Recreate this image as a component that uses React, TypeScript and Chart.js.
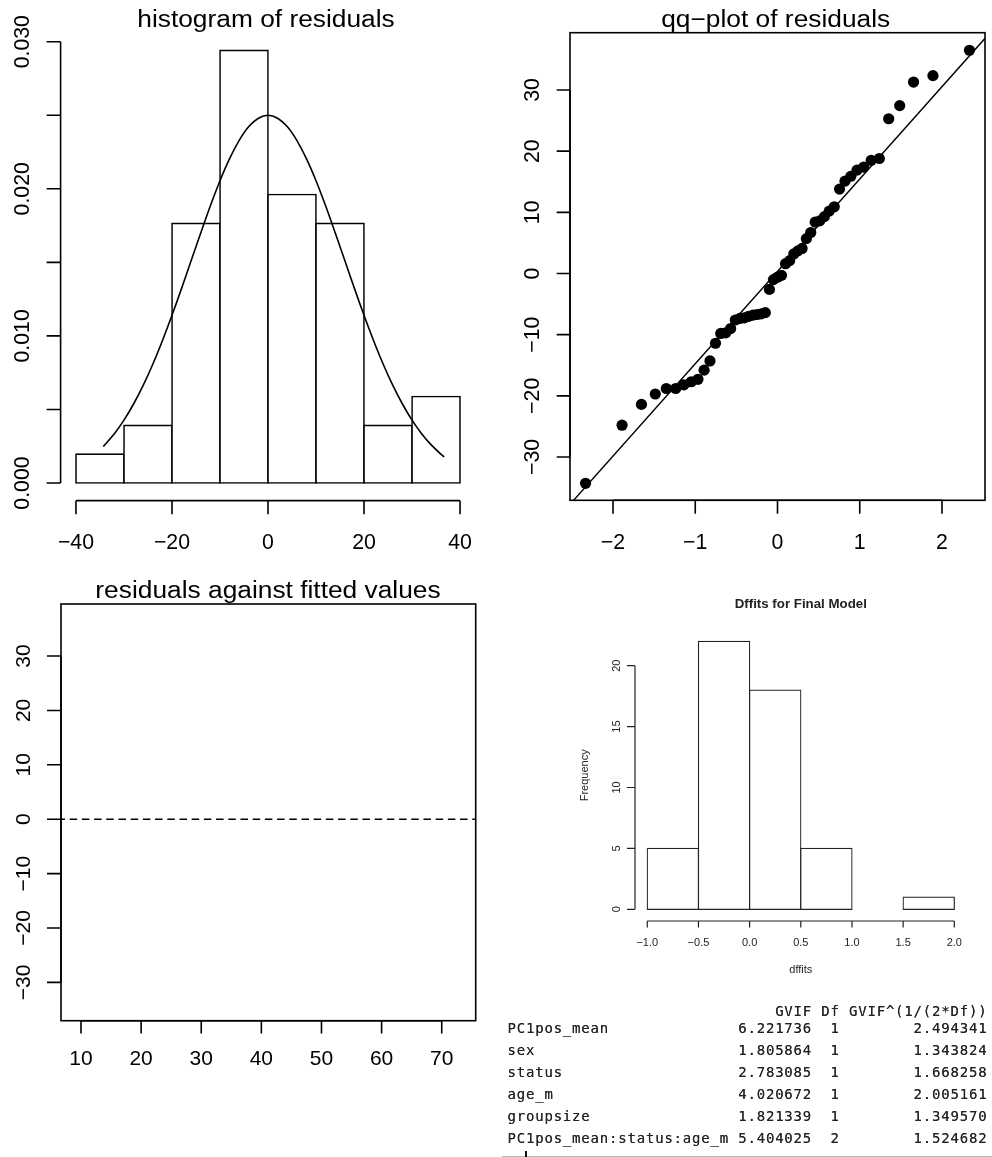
import { useEffect, useRef } from 'react';
import { Chart, registerables } from 'chart.js';

Chart.register(...registerables);

const PAGE_W = 992;
const PAGE_H = 1157;

// ---------- Panel 1: histogram of residuals ----------
const residBinCenters = [-35, -25, -15, -5, 5, 15, 25, 35];
const residDensity = [0.00196, 0.00392, 0.01765, 0.02941, 0.01961, 0.01765, 0.00392, 0.00588];
const normalCurveX = [-34.3, -32, -30, -28, -26, -24, -22, -20, -18, -16, -14, -12, -10, -8, -6, -4, -2, 0,
  2, 4, 6, 8, 10, 12, 14, 16, 18, 20, 22, 24, 26, 28, 30, 32, 34, 36, 36.7];
const normalCurveY = [0.00248, 0.00335, 0.00427, 0.00537, 0.00663, 0.00807, 0.00967, 0.0114, 0.01323, 0.01512,
  0.01701, 0.01885, 0.02055, 0.02205, 0.02329, 0.02423, 0.0248, 0.025, 0.0248, 0.02423, 0.02329, 0.02205,
  0.02055, 0.01885, 0.01701, 0.01512, 0.01323, 0.0114, 0.00967, 0.00807, 0.00663, 0.00537, 0.00427, 0.00335,
  0.00259, 0.00196, 0.00178];
const histXTicks = [-40, -20, 0, 20, 40];
const histXLabels = ['\u221240', '\u221220', '0', '20', '40'];
const histYTicks = [0, 0.005, 0.01, 0.015, 0.02, 0.025, 0.03];
const histYLabels = ['0.000', '', '0.010', '', '0.020', '', '0.030'];

// ---------- Panel 2: qq-plot of residuals ----------
const qqTheoretical = [-2.334, -1.89, -1.654, -1.486, -1.352, -1.238, -1.139, -1.049, -0.967, -0.892, -0.821,
  -0.754, -0.69, -0.629, -0.57, -0.513, -0.458, -0.404, -0.351, -0.299, -0.248, -0.198, -0.148, -0.098, -0.049,
  0, 0.049, 0.098, 0.148, 0.198, 0.248, 0.299, 0.351, 0.404, 0.458, 0.513, 0.57, 0.629, 0.69, 0.754, 0.821,
  0.892, 0.967, 1.049, 1.139, 1.238, 1.352, 1.486, 1.654, 1.89, 2.334];
const qqSample = [-34.3, -24.8, -21.4, -19.7, -18.8, -18.8, -18.2, -17.7, -17.3, -15.8, -14.3, -11.4, -9.8, -9.7,
  -9.0, -7.6, -7.35, -7.25, -7.0, -6.8, -6.7, -6.6, -6.4, -2.6, -1.0, -0.6, -0.3, 1.6, 2.1, 3.2, 3.7, 4.1, 5.7,
  6.7, 8.4, 8.6, 9.3, 10.2, 10.9, 13.8, 15.1, 15.9, 16.9, 17.4, 18.5, 18.8, 25.3, 27.45, 31.3, 32.35, 36.5];
const qqLineX = [-2.6, 2.6];
const qqLineY = [-38.91, 39.61];
const qqXTicks = [-2, -1, 0, 1, 2];
const qqXLabels = ['\u22122', '\u22121', '0', '1', '2'];
const residYTicks = [-30, -20, -10, 0, 10, 20, 30];
const residYLabels = ['\u221230', '\u221220', '\u221210', '0', '10', '20', '30'];

// ---------- Panel 3: residuals against fitted values ----------
const fittedXTicks = [10, 20, 30, 40, 50, 60, 70];
const fittedXLabels = ['10', '20', '30', '40', '50', '60', '70'];
const zeroLineX = [0, 100];
const zeroLineY = [0, 0];

// ---------- Panel 4: Dffits ----------
const dffitsBinCenters = [-0.75, -0.25, 0.25, 0.75, 1.25, 1.75];
const dffitsCounts = [5, 22, 18, 5, 0, 1];
const dffitsXTicks = [-1, -0.5, 0, 0.5, 1, 1.5, 2];
const dffitsXLabels = ['\u22121.0', '\u22120.5', '0.0', '0.5', '1.0', '1.5', '2.0'];
const dffitsYTicks = [0, 5, 10, 15, 20];
const dffitsYLabels = ['0', '5', '10', '15', '20'];

// ---------- VIF table ----------
const vifTerms = ['PC1pos_mean', 'sex', 'status', 'age_m', 'groupsize', 'PC1pos_mean:status:age_m'];
const vifGVIF = [6.221736, 1.805864, 2.783085, 4.020672, 1.821339, 5.404025];
const vifDf = [1, 1, 1, 1, 1, 2];
const vifAdj = [2.494341, 1.343824, 1.668258, 2.005161, 1.34957, 1.524682];
const vifHeaders = ['GVIF', 'Df', 'GVIF^(1/(2*Df))'];

// ---------- helpers ----------
type Area = { left: number; top: number; right: number; bottom: number };
type AxisCfg = { ticks: number[]; labels: string[]; tickLen: number; labelOffset: number; font: string; shift?: number };
type TextCfg = { text: string; x: number; y: number; font: string; scaleX?: number; rotate?: boolean };
type RCfg = { color: string; lineWidth: number; box?: boolean; x: AxisCfg; y: AxisCfg; texts: TextCfg[] };

const SANS = '"Liberation Sans", Arial, Helvetica, sans-serif';

function rStylePlugin(cfg: RCfg) {
  return {
    id: 'rStyle',
    afterDraw(chart: any) {
      const ctx: CanvasRenderingContext2D = chart.ctx;
      const a = chart.chartArea;
      const xs = chart.scales.x;
      const ys = chart.scales.y;
      ctx.save();
      ctx.strokeStyle = cfg.color;
      ctx.fillStyle = cfg.color;
      ctx.lineWidth = cfg.lineWidth;
      ctx.setLineDash([]);
      if (cfg.box) ctx.strokeRect(a.left, a.top, a.right - a.left, a.bottom - a.top);

      const xy = a.bottom + (cfg.x.shift || 0);
      const xp = cfg.x.ticks.map((v) => xs.getPixelForValue(v));
      ctx.beginPath();
      ctx.moveTo(xp[0], xy);
      ctx.lineTo(xp[xp.length - 1], xy);
      for (const p of xp) {
        ctx.moveTo(p, xy);
        ctx.lineTo(p, xy + cfg.x.tickLen);
      }
      ctx.stroke();
      ctx.font = cfg.x.font;
      ctx.textAlign = 'center';
      ctx.textBaseline = 'alphabetic';
      cfg.x.labels.forEach((l, i) => {
        if (l) ctx.fillText(l, xp[i], xy + cfg.x.labelOffset);
      });

      const yx = a.left - (cfg.y.shift || 0);
      const yp = cfg.y.ticks.map((v) => ys.getPixelForValue(v));
      ctx.beginPath();
      ctx.moveTo(yx, yp[0]);
      ctx.lineTo(yx, yp[yp.length - 1]);
      for (const p of yp) {
        ctx.moveTo(yx, p);
        ctx.lineTo(yx - cfg.y.tickLen, p);
      }
      ctx.stroke();
      ctx.font = cfg.y.font;
      cfg.y.labels.forEach((l, i) => {
        if (!l) return;
        ctx.save();
        ctx.translate(yx - cfg.y.labelOffset, yp[i]);
        ctx.rotate(-Math.PI / 2);
        ctx.fillText(l, 0, 0);
        ctx.restore();
      });

      for (const t of cfg.texts) {
        ctx.save();
        ctx.translate(t.x, t.y);
        if (t.rotate) ctx.rotate(-Math.PI / 2);
        ctx.scale(t.scaleX || 1, 1);
        ctx.font = t.font;
        ctx.textAlign = 'center';
        ctx.textBaseline = 'alphabetic';
        ctx.fillText(t.text, 0, 0);
        ctx.restore();
      }
      ctx.restore();
    },
  };
}

function baseOptions(area: Area, xMin: number, xMax: number, yMin: number, yMax: number): any {
  return {
    responsive: false,
    maintainAspectRatio: false,
    animation: false,
    devicePixelRatio: 1,
    events: [],
    layout: {
      padding: { left: area.left, top: area.top, right: PAGE_W - area.right, bottom: PAGE_H - area.bottom },
    },
    plugins: { legend: { display: false }, tooltip: { enabled: false }, title: { display: false } },
    scales: {
      x: { type: 'linear', min: xMin, max: xMax, display: false, bounds: 'data', offset: false },
      y: { type: 'linear', min: yMin, max: yMax, display: false, bounds: 'data', offset: false },
    },
  };
}

const pts = (xs: number[], ys: number[]) => xs.map((x, i) => ({ x, y: ys[i] }));

// ---------- chart factories ----------
function makeHist(canvas: HTMLCanvasElement) {
  const area = { left: 60.6, top: 24.05, right: 475.4, bottom: 500.65 };
  const xMin = -43.2, xMax = 43.2;
  const binPx = (10 * (area.right - area.left)) / (xMax - xMin);
  const lw = 1.6;
  return new Chart(canvas, {
    type: 'bar',
    data: {
      datasets: [
        {
          type: 'line',
          data: pts(normalCurveX, normalCurveY),
          borderColor: '#000',
          borderWidth: lw,
          pointRadius: 0,
          tension: 0.3,
          order: 0,
          clip: 0,
        } as any,
        {
          type: 'bar',
          data: pts(residBinCenters, residDensity),
          backgroundColor: '#fff',
          borderColor: '#000',
          borderWidth: lw,
          borderSkipped: false,
          inflateAmount: lw / 2,
          barThickness: binPx,
          order: 1,
        } as any,
      ],
    },
    options: baseOptions(area, xMin, xMax, -0.0012, 0.0312),
    plugins: [
      rStylePlugin({
        color: '#000',
        lineWidth: lw,
        x: { ticks: histXTicks, labels: histXLabels, tickLen: 13.7, labelOffset: 48.7, font: `21.3px ${SANS}` },
        y: { ticks: histYTicks, labels: histYLabels, tickLen: 14, labelOffset: 31.5, font: `21.3px ${SANS}` },
        texts: [{ text: 'histogram of residuals', x: 266, y: 26.7, font: `23.5px ${SANS}`, scaleX: 1.12 }],
      }),
    ],
  });
}

function makeQQ(canvas: HTMLCanvasElement) {
  const area = { left: 570, top: 32.7, right: 985, bottom: 500.3 };
  const lw = 1.6;
  return new Chart(canvas, {
    type: 'scatter',
    data: {
      datasets: [
        {
          type: 'line',
          data: pts(qqLineX, qqLineY),
          borderColor: '#000',
          borderWidth: 1.4,
          pointRadius: 0,
          order: 0,
          clip: 0,
        } as any,
        {
          type: 'scatter',
          data: pts(qqTheoretical, qqSample),
          backgroundColor: '#000',
          borderWidth: 0,
          pointRadius: 5.6,
          order: 1,
        } as any,
      ],
    },
    options: baseOptions(area, -2.523, 2.523, -37.08, 39.37),
    plugins: [
      rStylePlugin({
        color: '#000',
        lineWidth: lw,
        box: true,
        x: { ticks: qqXTicks, labels: qqXLabels, tickLen: 13.5, labelOffset: 49, font: `21.3px ${SANS}` },
        y: { ticks: residYTicks, labels: residYLabels, tickLen: 13.3, labelOffset: 30.7, font: `21.3px ${SANS}` },
        texts: [{ text: 'qq\u2212plot of residuals', x: 775.7, y: 26.7, font: `23.5px ${SANS}`, scaleX: 1.12 }],
      }),
    ],
  });
}

function makeFitted(canvas: HTMLCanvasElement) {
  const area = { left: 61, top: 604, right: 475.7, bottom: 1020.7 };
  const lw = 1.6;
  return new Chart(canvas, {
    type: 'line',
    data: {
      datasets: [
        {
          data: pts(zeroLineX, zeroLineY),
          borderColor: '#000',
          borderWidth: 1.5,
          borderDash: [7.5, 4.7],
          pointRadius: 0,
          clip: 0,
        } as any,
      ],
    },
    options: baseOptions(area, 6.673, 75.65, -37.05, 39.57),
    plugins: [
      rStylePlugin({
        color: '#000',
        lineWidth: lw,
        box: true,
        x: { ticks: fittedXTicks, labels: fittedXLabels, tickLen: 12.7, labelOffset: 44.3, font: `21px ${SANS}` },
        y: { ticks: residYTicks, labels: residYLabels, tickLen: 14, labelOffset: 31, font: `21px ${SANS}` },
        texts: [{ text: 'residuals against fitted values', x: 268, y: 598, font: `23.5px ${SANS}`, scaleX: 1.12 }],
      }),
    ],
  });
}

function makeDffits(canvas: HTMLCanvasElement) {
  const area = { left: 635, top: 630.6, right: 966.6, bottom: 920 };
  const xMin = -1.12, xMax = 2.12;
  const binPx = (0.5 * (area.right - area.left)) / (xMax - xMin);
  const lw = 1.2;
  const col = '#222';
  return new Chart(canvas, {
    type: 'bar',
    data: {
      datasets: [
        {
          data: pts(dffitsBinCenters, dffitsCounts),
          backgroundColor: '#fff',
          borderColor: col,
          borderWidth: lw,
          borderSkipped: false,
          inflateAmount: lw / 2,
          barThickness: binPx,
        } as any,
      ],
    },
    options: baseOptions(area, xMin, xMax, -0.88, 22.88),
    plugins: [
      rStylePlugin({
        color: col,
        lineWidth: lw,
        x: { ticks: dffitsXTicks, labels: dffitsXLabels, tickLen: 6.5, labelOffset: 24.5, font: `11px ${SANS}`, shift: 1 },
        y: { ticks: dffitsYTicks, labels: dffitsYLabels, tickLen: 8, labelOffset: 15.5, font: `11px ${SANS}` },
        texts: [
          { text: 'Dffits for Final Model', x: 800.8, y: 607.5, font: `bold 13.3px ${SANS}` },
          { text: 'dffits', x: 800.8, y: 973, font: `11px ${SANS}` },
          { text: 'Frequency', x: 588, y: 775.3, font: `11px ${SANS}`, rotate: true },
        ],
      }),
    ],
  });
}

function ChartLayer({ make }: { make: (c: HTMLCanvasElement) => Chart }) {
  const ref = useRef<HTMLCanvasElement>(null);
  useEffect(() => {
    const chart = make(ref.current as HTMLCanvasElement);
    return () => chart.destroy();
  }, [make]);
  return (
    <canvas
      ref={ref}
      width={PAGE_W}
      height={PAGE_H}
      style={{ position: 'absolute', left: 0, top: 0, width: PAGE_W, height: PAGE_H }}
    />
  );
}

function VifTable() {
  const nameW = Math.max(...vifTerms.map((t) => t.length));
  const header =
    ''.padEnd(nameW) + ' ' + vifHeaders[0].padStart(8) + ' ' + vifHeaders[1].padStart(2) + ' ' + vifHeaders[2].padStart(15);
  const rows = vifTerms.map(
    (t, i) =>
      t.padEnd(nameW) + ' ' + vifGVIF[i].toFixed(6).padStart(8) + ' ' + String(vifDf[i]).padStart(2) + ' ' +
      vifAdj[i].toFixed(6).padStart(15)
  );
  const baselines = [1016, ...rows.map((_, i) => 1033.3 + 21.9 * i)];
  const lines = [header, ...rows];
  return (
    <>
      {lines.map((l, i) => (
        <div
          key={i}
          style={{
            position: 'absolute',
            left: 507.5,
            top: baselines[i] - 11.84,
            font: '14px "DejaVu Sans Mono", monospace',
            lineHeight: '14px',
            letterSpacing: '0.8px',
            whiteSpace: 'pre',
            color: '#222',
            textShadow: '0 0 0.6px #555',
          }}
        >
          {l}
        </div>
      ))}
      <div style={{ position: 'absolute', left: 502, top: 1156, width: 490, height: 1, background: '#b8b8b8' }} />
      <div style={{ position: 'absolute', left: 525, top: 1151, width: 2, height: 6, background: '#111' }} />
    </>
  );
}

export default function App() {
  return (
    <div style={{ position: 'absolute', left: 0, top: 0, width: PAGE_W, height: PAGE_H, background: '#fff', overflow: 'hidden' }}>
      <ChartLayer make={makeHist} />
      <ChartLayer make={makeQQ} />
      <ChartLayer make={makeFitted} />
      <ChartLayer make={makeDffits} />
      <VifTable />
    </div>
  );
}
